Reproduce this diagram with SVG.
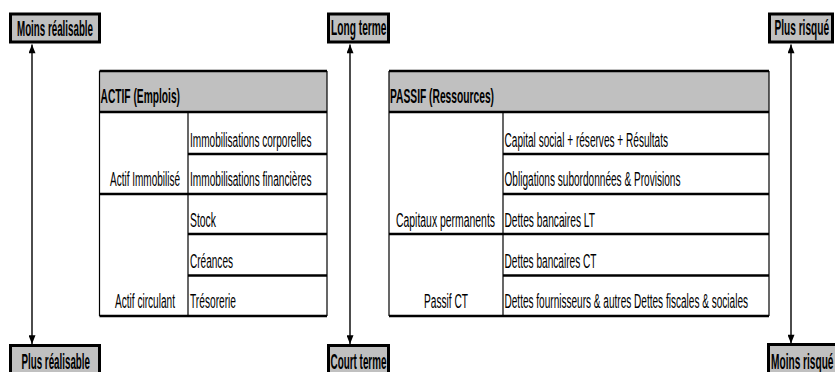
<svg xmlns="http://www.w3.org/2000/svg" width="835" height="372" viewBox="0 0 835 372">
<style>
text{font-family:"Liberation Sans",Arial,sans-serif;fill:#000}
.lbl{font-size:22px;font-weight:bold}
.hdr{font-size:21px;font-weight:bold}
.cell{font-size:19.5px}
.box{fill:#c0c0c0;stroke:#000;stroke-width:3}
.hfill{fill:#c0c0c0;stroke:none}
.h{stroke:#000;stroke-width:2.6}
.v{stroke:#000;stroke-width:1.2}
.arr{stroke:#000;stroke-width:1.4;fill:none;marker-start:url(#ah);marker-end:url(#ah)}
</style>
<defs>
<marker id="ah" viewBox="0 0 10 8" refX="10" refY="4" markerWidth="10" markerHeight="7" markerUnits="userSpaceOnUse" orient="auto-start-reverse">
<path d="M0,0 L10,4 L0,8 z" fill="#000"/>
</marker>
</defs>
<rect width="835" height="372" fill="#fff"/>

<g id="connectors">
<line class="arr" x1="32" y1="44.5" x2="32" y2="344"/>
<line class="arr" x1="350" y1="44.5" x2="350" y2="344"/>
<line class="arr" x1="791" y1="44.5" x2="791" y2="343.5"/>
</g>

<g id="moins-realisable">
<rect class="box" x="10.5" y="14" width="89" height="28"/>
<text class="lbl" x="17" y="35.5" textLength="76" lengthAdjust="spacingAndGlyphs">Moins réalisable</text>
</g>
<g id="plus-realisable">
<rect class="box" x="10.5" y="345.5" width="89" height="30"/>
<text class="lbl" x="21.5" y="368.5" textLength="68.5" lengthAdjust="spacingAndGlyphs">Plus réalisable</text>
</g>
<g id="long-terme">
<rect class="box" x="328.5" y="14" width="60" height="28"/>
<text class="lbl" x="331" y="34.5" textLength="55.5" lengthAdjust="spacingAndGlyphs">Long terme</text>
</g>
<g id="court-terme">
<rect class="box" x="328.5" y="345.5" width="60" height="30"/>
<text class="lbl" x="330.5" y="368.5" textLength="56" lengthAdjust="spacingAndGlyphs">Court terme</text>
</g>
<g id="plus-risque">
<rect class="box" x="769.5" y="14" width="63" height="28"/>
<text class="lbl" x="774.5" y="34.5" textLength="54.5" lengthAdjust="spacingAndGlyphs">Plus risqué</text>
</g>
<g id="moins-risque">
<rect class="box" x="768.5" y="344.5" width="70" height="30"/>
<text class="lbl" x="771" y="368.5" textLength="62.5" lengthAdjust="spacingAndGlyphs">Moins risqué</text>
</g>

<g id="actif">
<rect class="hfill" x="99.5" y="71" width="227.5" height="41"/>
<line class="h" x1="99.5" y1="71" x2="327" y2="71"/>
<line class="h" x1="99.5" y1="112" x2="327" y2="112"/>
<line class="h" x1="188" y1="154" x2="327" y2="154"/>
<line class="h" x1="99.5" y1="194" x2="327" y2="194"/>
<line class="h" x1="188" y1="234" x2="327" y2="234"/>
<line class="h" x1="188" y1="275.5" x2="327" y2="275.5"/>
<line class="h" x1="99.5" y1="316" x2="327" y2="316"/>
<line class="v" x1="99.5" y1="71" x2="99.5" y2="316"/>
<line class="v" x1="327" y1="71" x2="327" y2="316"/>
<line class="v" x1="188" y1="112" x2="188" y2="316"/>
<text class="hdr" x="100.5" y="102.5" textLength="79.5" lengthAdjust="spacingAndGlyphs">ACTIF (Emplois)</text>
<text class="cell" x="190" y="146.5" textLength="121.5" lengthAdjust="spacingAndGlyphs">Immobilisations corporelles</text>
<text class="cell" x="110" y="186" textLength="70" lengthAdjust="spacingAndGlyphs">Actif Immobilisé</text>
<text class="cell" x="190" y="186" textLength="121.5" lengthAdjust="spacingAndGlyphs">Immobilisations financières</text>
<text class="cell" x="190" y="226.5" textLength="26" lengthAdjust="spacingAndGlyphs">Stock</text>
<text class="cell" x="190" y="268" textLength="43" lengthAdjust="spacingAndGlyphs">Créances</text>
<text class="cell" x="115" y="308" textLength="60" lengthAdjust="spacingAndGlyphs">Actif circulant</text>
<text class="cell" x="190" y="308" textLength="46" lengthAdjust="spacingAndGlyphs">Trésorerie</text>
</g>

<g id="passif">
<rect class="hfill" x="389" y="71" width="380" height="41"/>
<line class="h" x1="389" y1="71" x2="769" y2="71"/>
<line class="h" x1="389" y1="112" x2="769" y2="112"/>
<line class="h" x1="503" y1="154" x2="769" y2="154"/>
<line class="h" x1="503" y1="194" x2="769" y2="194"/>
<line class="h" x1="389" y1="234" x2="769" y2="234"/>
<line class="h" x1="503" y1="275.5" x2="769" y2="275.5"/>
<line class="h" x1="389" y1="316" x2="769" y2="316"/>
<line class="v" x1="389" y1="71" x2="389" y2="316"/>
<line class="v" x1="769" y1="71" x2="769" y2="316"/>
<line class="v" x1="503" y1="112" x2="503" y2="316"/>
<text class="hdr" x="390" y="102.5" textLength="104" lengthAdjust="spacingAndGlyphs">PASSIF (Ressources)</text>
<text class="cell" x="504.5" y="146.5" textLength="163.5" lengthAdjust="spacingAndGlyphs">Capital social + réserves + Résultats</text>
<text class="cell" x="504.5" y="186" textLength="176" lengthAdjust="spacingAndGlyphs">Obligations subordonnées &amp; Provisions</text>
<text class="cell" x="396" y="226.5" textLength="99" lengthAdjust="spacingAndGlyphs">Capitaux permanents</text>
<text class="cell" x="504.5" y="226.5" textLength="90.5" lengthAdjust="spacingAndGlyphs">Dettes bancaires LT</text>
<text class="cell" x="504.5" y="268" textLength="92" lengthAdjust="spacingAndGlyphs">Dettes bancaires CT</text>
<text class="cell" x="424" y="308" textLength="44" lengthAdjust="spacingAndGlyphs">Passif CT</text>
<text class="cell" x="504.5" y="308" textLength="243.5" lengthAdjust="spacingAndGlyphs">Dettes fournisseurs &amp; autres Dettes fiscales &amp; sociales</text>
</g>
</svg>
